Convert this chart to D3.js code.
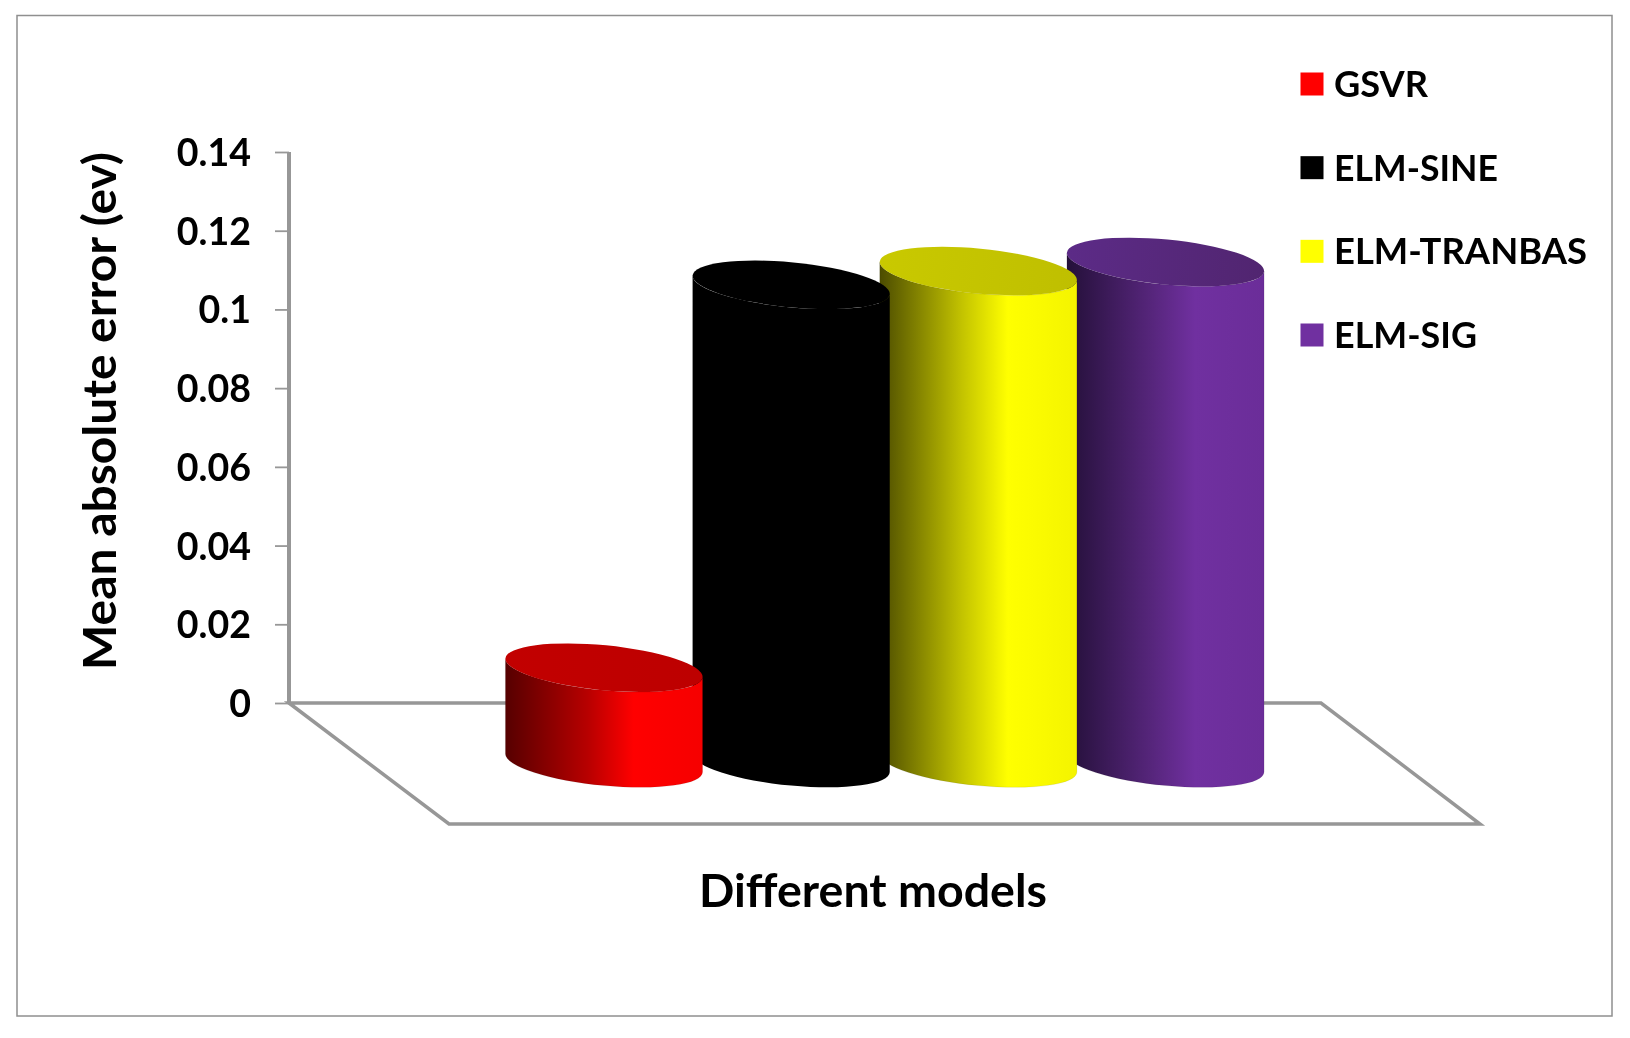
<!DOCTYPE html>
<html><head><meta charset="utf-8">
<script src="https://cdn.jsdelivr.net/npm/d3@7"></script>
<style>html,body{margin:0;background:#fff}svg{display:block;filter:blur(.45px)}text{font-family:Lato,sans-serif;font-weight:700;fill:#000}</style>
</head><body><svg id="c" width="1630" height="1038"></svg>
<script>
const categories = ["GSVR","ELM-SINE","ELM-TRANBAS","ELM-SIG"];
const values = [0.0242,0.1215,0.125,0.1273];
const bodyStops = [
  ["#560000","#b80000","#ff0000","#f60000"],
  ["#000000","#000000","#000000","#000000"],
  ["#4c4c00","#c4c400","#ffff00","#f4f400"],
  ["#241039","#55257a","#7030a0","#6b2d99"]];
const topColors = [["#c20000","#bd0000"],["#000000","#000000"],["#c9c900","#bfbf00"],["#5c2b87","#512570"]];
const legendColors = ["#ff0000","#000000","#ffff00","#7030a0"];
const legendWidths = [94,164,253,143];
const yTicks = [0,0.02,0.04,0.06,0.08,0.1,0.12,0.14];

const svg = d3.select("#c");
const defs = svg.append("defs");
const y = d3.scaleLinear().domain([0,0.14]).range([703,152]);
const x = d3.scalePoint().domain(categories).range([604,1165.5]);

svg.append("rect").attr("x",17).attr("y",15.5).attr("width",1595).attr("height",1000.5)
  .attr("fill","#fff").attr("stroke","#8f8f8f").attr("stroke-width",1.5);

// floor
const grey="#979797";
const floor=d3.path();
floor.moveTo(289,703);floor.lineTo(449,824);floor.lineTo(1480,824);floor.lineTo(1321,703);floor.closePath();
svg.append("path").attr("d",floor.toString()).attr("fill","none").attr("stroke",grey).attr("stroke-width",3.5);

// axis
const axis = d3.axisLeft(y).tickValues(yTicks).tickSize(14).tickPadding(24)
  .tickFormat(d=>d===0?"0":String(d));
const ag = svg.append("g").attr("transform","translate(289,0)").call(axis);
ag.select(".domain").attr("stroke",grey).attr("stroke-width",4).attr("d","M0,"+y(0.14)+"V"+y(0));
ag.selectAll(".tick line").attr("stroke",grey).attr("stroke-width",1.8);
ag.selectAll(".tick text").attr("font-size",37.5).attr("font-family","Lato").attr("font-weight",700).attr("fill","#000")
  .attr("dy","0.36em");

// cylinders
const rx=99, ry=22.5, phiDeg=5.5, phi=phiDeg*Math.PI/180, baseCy=763;
const c=Math.cos(phi), s=Math.sin(phi);
const t0=Math.atan2(-ry*s, rx*c);
const dx=rx*Math.cos(t0)*c-ry*Math.sin(t0)*s, dy=rx*Math.cos(t0)*s+ry*Math.sin(t0)*c;
const order=d3.range(categories.length).reverse();
order.forEach(i=>{
  const g=defs.append("linearGradient").attr("id","b"+i);
  [0,0.42,0.65,1].forEach((o,k)=>g.append("stop").attr("offset",o).attr("stop-color",bodyStops[i][k]));
  const h=defs.append("linearGradient").attr("id","t"+i);
  [0,1].forEach((o,k)=>h.append("stop").attr("offset",o).attr("stop-color",topColors[i][k]));
});
order.forEach(i=>{
  const cx=x(categories[i]);
  const topCy=baseCy-(y(0)-y(values[i]));
  const a=`A${rx},${ry} ${phiDeg} 0 0`;
  const body=`M${cx-dx},${topCy-dy}L${cx-dx},${baseCy-dy}${a} ${cx+dx},${baseCy+dy}L${cx+dx},${topCy+dy}${a.replace(/0 0$/,"0 1")} ${cx-dx},${topCy-dy}Z`;
  svg.append("path").attr("d",body).attr("fill",`url(#b${i})`).attr("stroke","#000").attr("stroke-opacity",i==1?0:0.08).attr("stroke-width",1);
  svg.append("ellipse").attr("rx",rx).attr("ry",ry)
    .attr("transform",`translate(${cx},${topCy}) rotate(${phiDeg})`)
    .attr("fill",`url(#t${i})`);
});

// legend
const legY=d3.scalePoint().domain(categories).range([84,335]);
categories.forEach((d,i)=>{
  svg.append("rect").attr("x",1300.5).attr("y",legY(d)-11.5).attr("width",23).attr("height",23).attr("fill",legendColors[i]);
  svg.append("text").attr("x",1334).attr("y",legY(d)+13).attr("font-size",36)
    .attr("textLength",legendWidths[i]).attr("lengthAdjust","spacingAndGlyphs").text(d);
});

svg.append("text").attr("x",873).attr("y",907).attr("text-anchor","middle").attr("font-size",45)
  .attr("textLength",348).attr("lengthAdjust","spacingAndGlyphs").text("Different models");
svg.append("text").attr("transform","translate(116,411) rotate(-90)").attr("text-anchor","middle").attr("font-size",45)
  .attr("textLength",518).attr("lengthAdjust","spacingAndGlyphs").text("Mean absolute error (ev)");
</script></body></html>
